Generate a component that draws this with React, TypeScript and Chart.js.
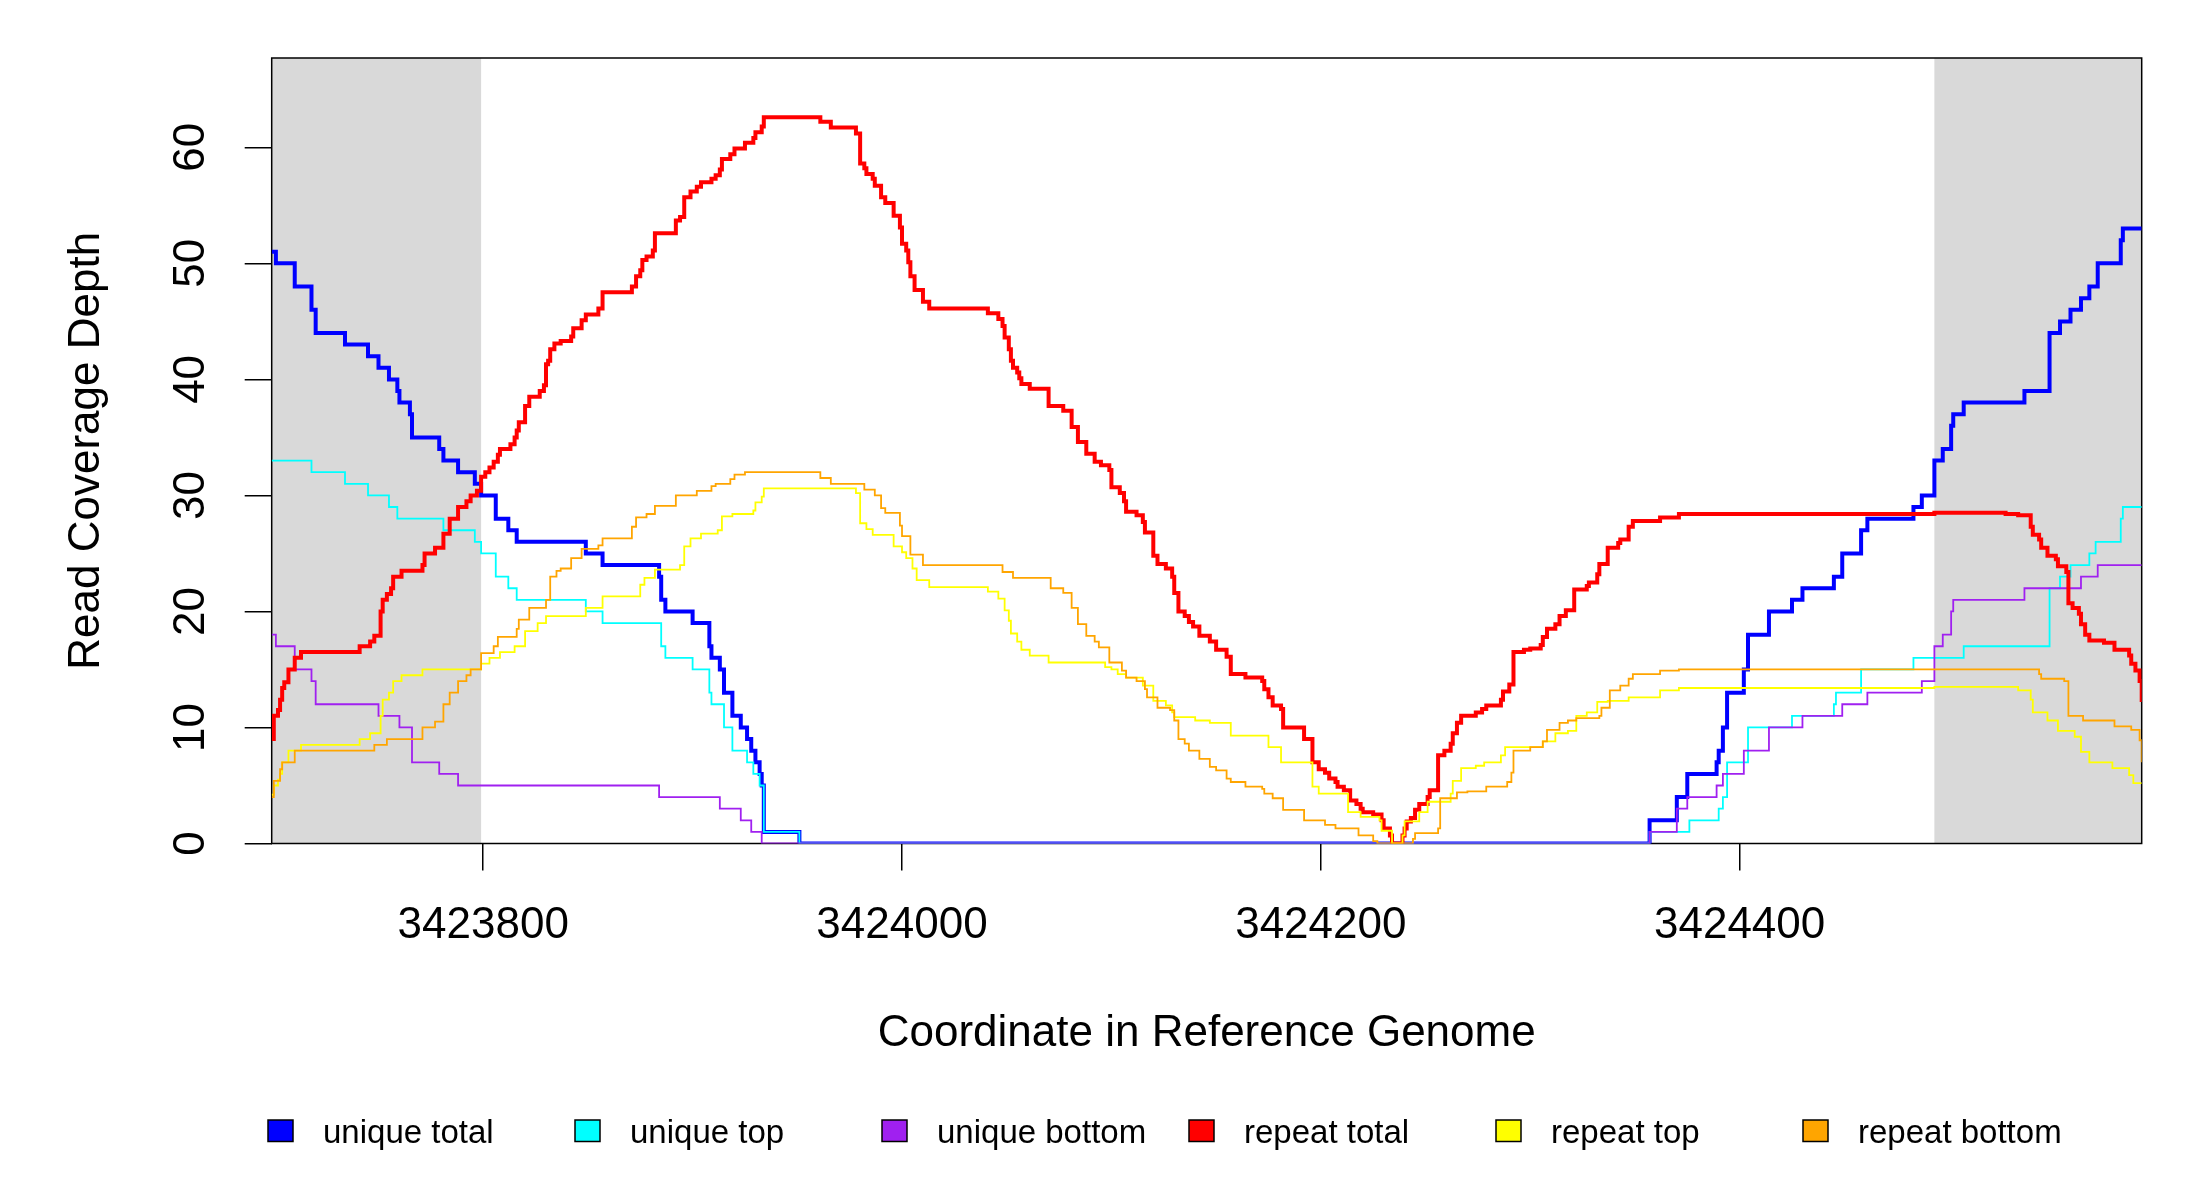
import React, { useEffect, useRef } from "react";
import { Chart, registerables } from "chart.js";

Chart.register(...registerables);

// Genomic window shown on the x axis
const REGION_START = 3423699;
const REGION_END = 3424592;
const xTickValues = [3423800, 3424000, 3424200, 3424400];
const yTickValues = [0, 10, 20, 30, 40, 50, 60];
const Y_MAX = 67.7;
// shaded flanks (genomic coordinates)
const shadedRegions: [number, number][] = [
  [3423699, 3423799],
  [3424493, 3424592],
];

const seriesNames = ["unique total", "unique top", "unique bottom", "repeat total", "repeat top", "repeat bottom"];

// Each series: [offset from REGION_START, depth] ; step function (value holds until next offset)
const uniqueTotal: [number, number][] = [
  [0, 51], [2, 50], [11, 48], [19, 46], [21, 44], [35, 43], [46, 42], [51, 41], [56, 40], [60, 39],
  [61, 38], [66, 37], [67, 35], [80, 34], [82, 33], [89, 32], [97, 31], [100, 30], [107, 28], [113, 27],
  [117, 26], [150, 25], [158, 24], [185, 23], [186, 21], [188, 20], [201, 19], [209, 17], [210, 16], [214, 15],
  [216, 13], [220, 11], [224, 10], [227, 9], [229, 8], [231, 7], [233, 6], [234, 5], [235, 1], [252, 0],
  [658, 2], [671, 4], [676, 6], [690, 7], [691, 8], [693, 10], [695, 13], [703, 15], [705, 18], [715, 20],
  [726, 21], [731, 22], [746, 23], [750, 25], [759, 27], [762, 28], [784, 29], [788, 30], [794, 33], [798, 34],
  [802, 36], [803, 37], [808, 38], [837, 39], [849, 44], [854, 45], [859, 46], [864, 47], [868, 48], [872, 50],
  [883, 52], [884, 53], [893, 53],
];

const uniqueTop: [number, number][] = [
  [0, 33], [19, 32], [35, 31], [46, 30], [56, 29], [60, 28], [82, 27], [97, 26], [100, 25], [107, 23],
  [113, 22], [117, 21], [150, 20], [158, 19], [186, 17], [188, 16], [201, 15], [209, 13], [210, 12], [216, 10],
  [220, 8], [227, 7], [230, 6], [233, 5], [235, 1], [252, 0],
  [658, 1], [677, 2], [691, 3], [693, 4], [695, 7], [705, 10], [726, 11], [746, 12], [747, 13], [759, 15],
  [784, 16], [808, 17], [849, 22], [854, 23], [859, 24], [868, 25], [871, 26], [883, 28], [884, 29], [893, 29],
];

const uniqueBottom: [number, number][] = [
  [0, 18], [2, 17], [11, 15], [19, 14], [21, 12], [51, 11], [61, 10], [67, 7], [80, 6], [89, 5],
  [185, 4], [214, 3], [224, 2], [229, 1], [234, 0],
  [658, 1], [671, 3], [676, 4], [690, 5], [693, 6], [703, 8], [715, 10], [731, 11], [750, 12], [762, 13],
  [788, 14], [794, 17], [798, 18], [802, 20], [803, 21], [837, 22], [864, 23], [872, 24], [893, 24],
];

const repeatTotal: [number, number][] = [
  [0, 9], [1, 11], [3, 11.5], [4, 12.4], [5, 13.4], [6, 13.9], [8, 15], [11, 16], [14, 16.5], [42, 17],
  [47, 17.4], [49, 17.9], [52, 20], [53, 21], [55, 21.5], [57, 22], [58, 23], [62, 23.5], [72, 24], [73, 25],
  [78, 25.5], [82, 26.7], [85, 28], [89, 29], [93, 29.5], [95, 30], [98, 30.4], [100, 31.6], [102, 32], [104, 32.4],
  [106, 32.9], [108, 33.5], [109, 34], [114, 34.4], [116, 35], [117, 35.6], [118, 36.3], [121, 37.7], [123, 38.5], [128, 39],
  [130, 39.5], [131, 41.3], [132, 41.6], [133, 42.6], [135, 43.1], [138, 43.3], [143, 43.7], [144, 44.4], [148, 45.1], [150, 45.6],
  [156, 46.1], [158, 47.5], [172, 48], [174, 48.9], [176, 49.4], [177, 50.3], [179, 50.6], [182, 51.1], [183, 52.6], [193, 53.7],
  [195, 54], [197, 55.7], [200, 56.2], [203, 56.6], [205, 57], [210, 57.3], [212, 57.6], [214, 58.1], [215, 59], [219, 59.4],
  [221, 59.9], [226, 60.4], [230, 60.8], [231, 61.3], [234, 61.8], [235, 62.6], [262, 62.2], [267, 61.7], [279, 61.2], [281, 58.6],
  [283, 58.2], [284, 57.7], [287, 57.3], [288, 56.7], [291, 55.7], [293, 55.2], [297, 54.1], [300, 53.1], [301, 51.7], [303, 51.1],
  [304, 50.1], [305, 48.9], [307, 47.7], [311, 46.7], [314, 46.1], [342, 45.7], [347, 45.2], [349, 44.6], [350, 43.6], [352, 42.6],
  [353, 41.6], [354, 41.0], [356, 40.6], [357, 40.1], [358, 39.6], [362, 39.2], [371, 37.7], [378, 37.3], [382, 35.9], [385, 34.6],
  [389, 33.6], [393, 32.9], [396, 32.6], [400, 32.2], [401, 30.7], [405, 30.2], [407, 29.5], [408, 28.6], [413, 28.3], [416, 27.7],
  [417, 26.8], [421, 24.8], [423, 24.1], [427, 23.7], [430, 23.0], [431, 21.6], [433, 20.0], [436, 19.6], [438, 19.1], [440, 18.7],
  [443, 17.9], [448, 17.4], [451, 16.7], [456, 16.1], [458, 14.6], [465, 14.3], [473, 14.0], [474, 13.3], [476, 12.6], [478, 11.9],
  [482, 11.6], [483, 10.0], [493, 9.0], [497, 7.0], [500, 6.4], [503, 6.1], [505, 5.6], [508, 5.3], [509, 4.9], [512, 4.6],
  [515, 3.7], [518, 3.4], [520, 3.0], [521, 2.7], [526, 2.5], [530, 2.0], [531, 1.3], [534, 0.7], [535, 0], [540, 0.7],
  [541, 1.3], [542, 1.9], [544, 2.2], [546, 2.9], [548, 3.4], [552, 4.0], [553, 4.6], [557, 7.6], [560, 8.0], [563, 8.6],
  [564, 9.5], [566, 10.4], [568, 11.0], [575, 11.3], [578, 11.6], [580, 11.9], [587, 12.4], [588, 13.1], [591, 13.7], [593, 16.5],
  [598, 16.7], [601, 16.8], [606, 17.1], [607, 17.8], [609, 18.5], [613, 18.9], [615, 19.6], [618, 20.1], [622, 21.9], [628, 22.2],
  [629, 22.5], [633, 23.2], [634, 24.1], [638, 25.5], [643, 25.9], [644, 26.2], [648, 27.3], [650, 27.8], [663, 28.1], [672, 28.4],
  [794, 28.5], [828, 28.4], [834, 28.3], [840, 27.3], [841, 26.6], [844, 26.2], [845, 25.5], [848, 24.8], [852, 24.5], [853, 23.9],
  [857, 23.4], [858, 20.7], [860, 20.3], [863, 19.8], [864, 18.9], [866, 18.0], [868, 17.5], [875, 17.3], [880, 16.7], [887, 16.2],
  [888, 15.5], [890, 14.9], [892, 14.0], [893, 12.2],
];

const repeatTop: [number, number][] = [
  [0, 4.2], [1, 5], [3, 5.5], [4, 6], [5, 7], [8, 8], [14, 8.5], [42, 9], [47, 9.5], [52, 11],
  [53, 12.4], [56, 13], [58, 14], [62, 14.5], [72, 15], [100, 15.5], [104, 16], [109, 16.5], [116, 17], [121, 18.3],
  [127, 19], [131, 19.6], [150, 20.3], [158, 21.3], [176, 22.3], [178, 22.9], [183, 23.6], [195, 24], [197, 25.6], [200, 26.3],
  [205, 26.7], [213, 27], [215, 28.2], [220, 28.4], [230, 28.7], [231, 29.4], [234, 29.9], [235, 30.6], [279, 30.2], [281, 27.6],
  [284, 27.1], [287, 26.6], [297, 25.6], [301, 25.1], [303, 24.6], [306, 23.7], [308, 22.7], [314, 22.1], [342, 21.7], [347, 21.1],
  [350, 20.1], [352, 19.2], [353, 18.1], [356, 17.4], [358, 16.7], [362, 16.2], [371, 15.6], [398, 15.2], [401, 15.0], [404, 14.6],
  [408, 14.3], [416, 13.6], [421, 12.3], [427, 11.9], [430, 11.3], [431, 10.9], [441, 10.6], [448, 10.4], [458, 9.3], [476, 8.3],
  [482, 7.0], [497, 4.9], [500, 4.3], [514, 2.7], [520, 2.3], [529, 2.0], [530, 1.1], [535, 0], [540, 0.7], [541, 1.9],
  [548, 2.7], [552, 3.6], [563, 4.3], [564, 5.4], [568, 6.5], [575, 6.7], [579, 7.0], [587, 7.6], [589, 8.3], [607, 8.8],
  [613, 9.5], [619, 9.7], [623, 11.0], [628, 11.3], [633, 12.2], [638, 12.3], [648, 12.6], [663, 13.2], [672, 13.4], [794, 13.5],
  [834, 13.2], [840, 12.4], [841, 11.3], [848, 10.6], [853, 9.7], [861, 9.2], [864, 7.9], [868, 7.0], [879, 6.5], [887, 5.9],
  [889, 5.2], [893, 5.2],
];

const repeatBottom: [number, number][] = [
  [0, 4], [1, 5.4], [4, 6.4], [5, 7], [11, 8], [49, 8.5], [55, 9], [72, 10], [78, 10.5], [82, 12],
  [85, 13], [89, 14], [93, 14.5], [95, 15], [100, 16.4], [106, 17], [108, 17.8], [117, 18.5], [118, 19.3], [123, 20.3],
  [131, 21], [133, 23], [136, 23.5], [138, 23.7], [143, 24.6], [148, 25.4], [156, 25.7], [158, 26.3], [172, 27.3], [174, 28.1],
  [179, 28.4], [183, 29.1], [193, 30], [203, 30.4], [210, 30.8], [212, 31], [219, 31.4], [221, 31.8], [226, 32], [262, 31.5],
  [267, 31.0], [283, 30.5], [288, 30.0], [291, 28.9], [293, 28.5], [300, 27.4], [301, 26.5], [305, 24.9], [311, 24.0], [349, 23.4],
  [354, 22.9], [372, 22.0], [378, 21.6], [382, 20.3], [385, 18.9], [389, 17.9], [393, 17.4], [395, 16.9], [400, 15.6], [406, 14.9],
  [408, 14.3], [413, 14.0], [417, 13.3], [418, 12.6], [423, 11.7], [429, 11.5], [431, 10.6], [433, 9.0], [436, 8.6], [438, 8.0],
  [443, 7.3], [448, 6.6], [451, 6.3], [456, 5.6], [458, 5.3], [465, 4.9], [473, 4.7], [474, 4.3], [478, 3.9], [483, 2.9],
  [493, 2.0], [503, 1.6], [508, 1.3], [519, 0.7], [526, 0.2], [528, 0], [545, 0.4], [546, 0.9], [557, 1.3], [558, 3.9],
  [566, 4.4], [571, 4.5], [580, 4.9], [590, 5.3], [592, 6.1], [593, 8.0], [601, 8.3], [607, 8.8], [609, 9.8], [615, 10.4],
  [619, 10.6], [623, 10.8], [634, 11.0], [635, 11.7], [639, 13.2], [644, 13.6], [648, 14.2], [650, 14.6], [663, 14.9], [672, 15.0],
  [844, 14.6], [845, 14.2], [856, 14.0], [858, 11.0], [865, 10.6], [880, 10.1], [888, 9.8], [892, 8.9], [893, 7.0],
];

const seriesData = [uniqueTotal, uniqueTop, uniqueBottom, repeatTotal, repeatTop, repeatBottom];

// styles
const seriesColors = ["#0000FF", "#00FFFF", "#A020F0", "#FF0000", "#FFFF00", "#FFA500"];
const seriesWidths = [4, 1.8, 1.8, 4, 1.8, 1.8];
const FONT = "'Liberation Sans', Arial, Helvetica, sans-serif";

const shadePlugin = {
  id: "shadeAndBox",
  beforeDatasetsDraw(chart: any) {
    const { ctx, chartArea, scales } = chart;
    const xs = scales.x;
    ctx.save();
    ctx.fillStyle = "#D9D9D9";
    for (const [a, b] of shadedRegions) {
      const x0 = Math.max(chartArea.left, xs.getPixelForValue(a));
      const x1 = Math.min(chartArea.right, xs.getPixelForValue(b));
      ctx.fillRect(x0, chartArea.top, x1 - x0, chartArea.bottom - chartArea.top);
    }
    ctx.strokeStyle = "#000";
    ctx.lineWidth = 1.5;
    ctx.strokeRect(chartArea.left, chartArea.top, chartArea.right - chartArea.left, chartArea.bottom - chartArea.top);
    ctx.restore();
  },
};

const legendPlugin = {
  id: "rLegend",
  afterDraw(chart: any) {
    const { ctx } = chart;
    ctx.save();
    ctx.font = `33px ${FONT}`;
    ctx.textBaseline = "alphabetic";
    ctx.textAlign = "left";
    seriesNames.forEach((name, i) => {
      const x0 = 268 + i * 307;
      ctx.fillStyle = seriesColors[i];
      ctx.fillRect(x0, 1120, 25, 21.5);
      ctx.strokeStyle = "#000";
      ctx.lineWidth = 1.5;
      ctx.strokeRect(x0, 1120, 25, 21.5);
      ctx.fillStyle = "#000";
      ctx.fillText(name, x0 + 55, 1142.5);
    });
    ctx.restore();
  },
};

export default function App() {
  const canvasRef = useRef<HTMLCanvasElement | null>(null);

  useEffect(() => {
    if (!canvasRef.current) return;
    Chart.defaults.font.family = FONT;
    Chart.defaults.color = "#000";

    const datasets = seriesData.map((series, i) => ({
      label: seriesNames[i],
      data: series.map(([off, v]) => ({ x: REGION_START + off, y: v })),
      borderColor: seriesColors[i],
      backgroundColor: seriesColors[i],
      borderWidth: seriesWidths[i],
      stepped: "before" as const,
      pointRadius: 0,
      fill: false,
      tension: 0,
      clip: 0,
      order: seriesData.length - i,
    }));

    const chart = new Chart(canvasRef.current, {
      type: "line",
      data: { datasets },
      options: {
        animation: false,
        responsive: true,
        maintainAspectRatio: false,
        devicePixelRatio: 1,
        events: [],
        layout: { padding: { top: 58, right: 58.3, left: 0, bottom: 0 } },
        plugins: {
          legend: { display: false },
          tooltip: { enabled: false },
          title: { display: false },
        },
        scales: {
          x: {
            type: "linear",
            min: REGION_START,
            max: REGION_END,
            afterBuildTicks: (scale: any) => {
              scale.ticks = xTickValues.map((v) => ({ value: v }));
            },
            afterFit: (scale: any) => {
              scale.height = 356.5;
            },
            ticks: {
              autoSkip: false,
              maxRotation: 0,
              minRotation: 0,
              padding: 29,
              font: { size: 44, family: FONT },
              color: "#000",
              callback: (v: any) => String(v),
            },
            grid: {
              display: true,
              drawOnChartArea: false,
              drawTicks: true,
              tickLength: 27,
              color: "#000",
              lineWidth: 1.5,
            },
            border: { display: false },
            title: {
              display: true,
              text: "Coordinate in Reference Genome",
              color: "#000",
              font: { size: 44, family: FONT },
              padding: { top: 0, bottom: 139.6 },
            },
          },
          y: {
            type: "linear",
            min: 0,
            max: Y_MAX,
            afterBuildTicks: (scale: any) => {
              scale.ticks = yTickValues.map((v) => ({ value: v }));
            },
            afterFit: (scale: any) => {
              scale.width = 271.7;
            },
            ticks: {
              autoSkip: false,
              minRotation: 90,
              maxRotation: 90,
              crossAlign: "center",
              padding: 28,
              font: { size: 44, family: FONT },
              color: "#000",
            },
            grid: {
              display: true,
              drawOnChartArea: false,
              drawTicks: true,
              tickLength: 27,
              color: "#000",
              lineWidth: 1.5,
            },
            border: { display: false },
            title: {
              display: true,
              text: "Read Coverage Depth",
              color: "#000",
              font: { size: 44, family: FONT },
              padding: { top: 60, bottom: 0 },
            },
          },
        },
      } as any,
      plugins: [shadePlugin, legendPlugin],
    });

    return () => chart.destroy();
  }, []);

  return (
    <div style={{ position: "fixed", left: 0, top: 0, width: 2200, height: 1200, background: "#fff" }}>
      <canvas ref={canvasRef} />
    </div>
  );
}
